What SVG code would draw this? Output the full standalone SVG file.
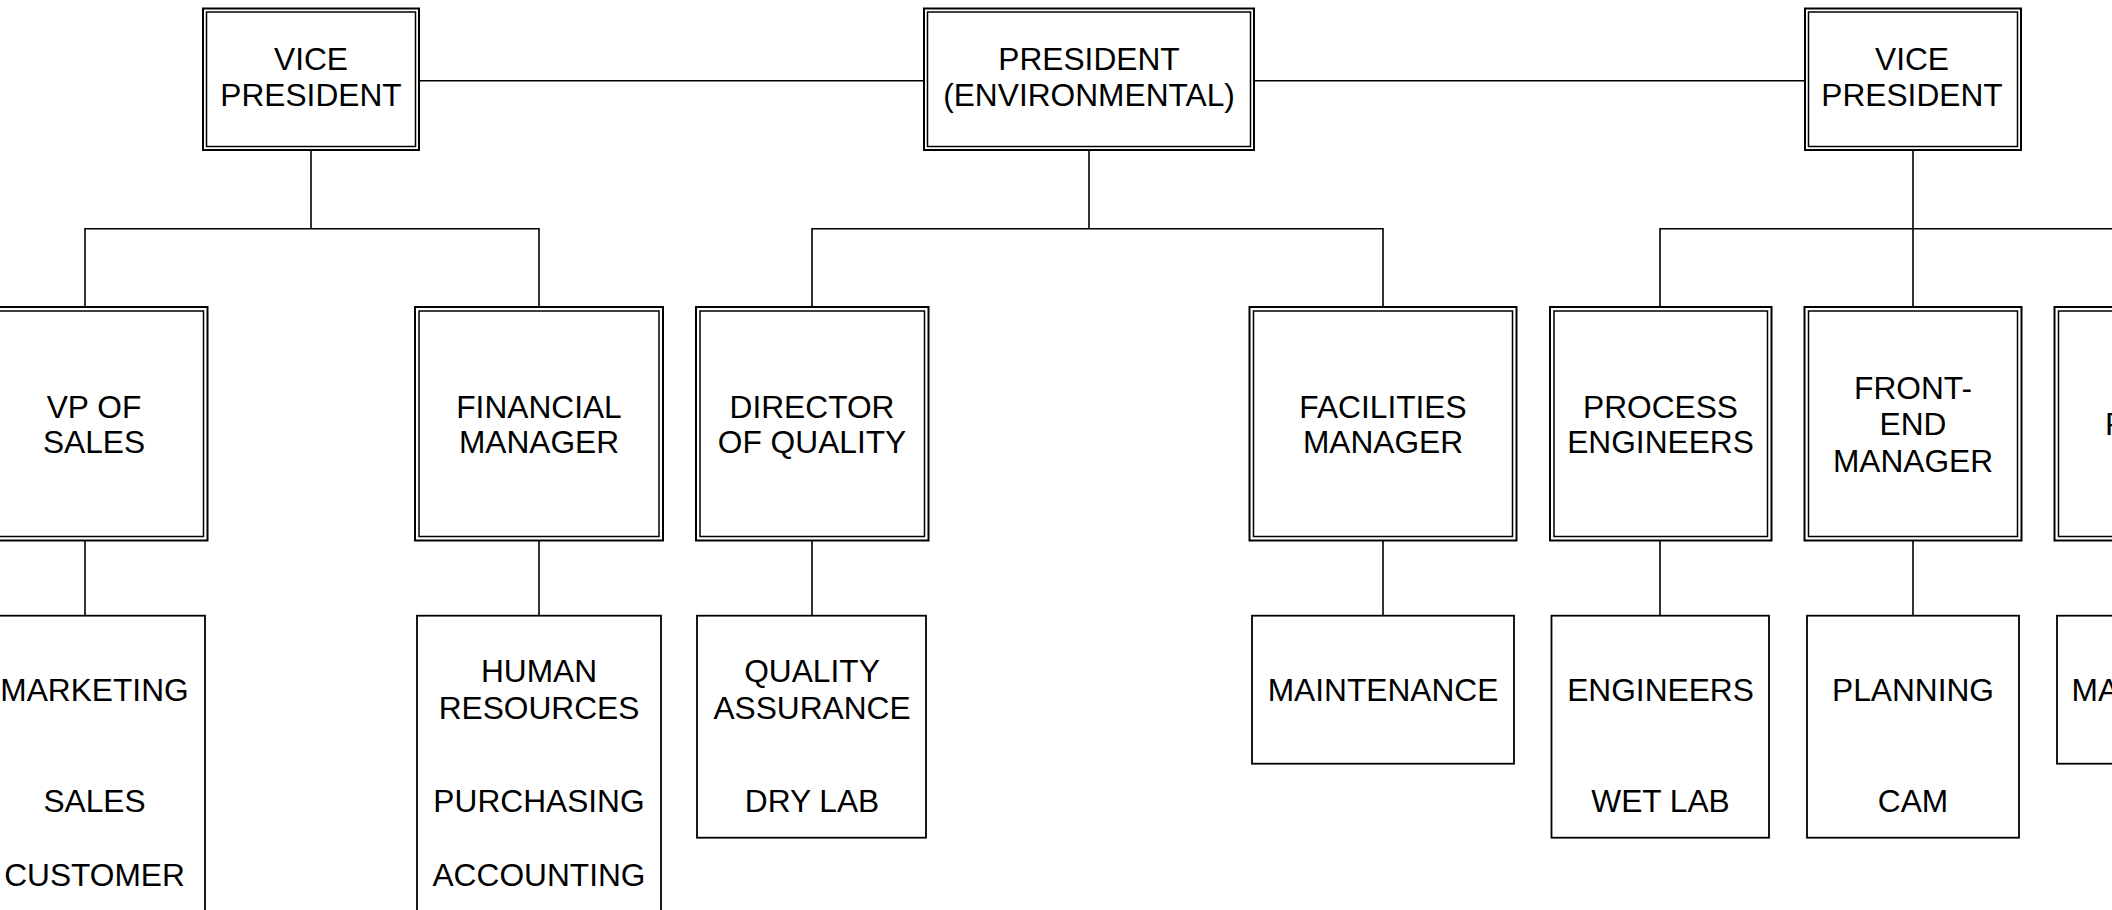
<svg xmlns="http://www.w3.org/2000/svg" width="2112" height="910" viewBox="0 0 2112 910">
<style>
.o{fill:#fff;stroke:#000;stroke-width:2}
.i{fill:none;stroke:#000;stroke-width:1.5}
.s{fill:#fff;stroke:#000;stroke-width:1.8}
.c{fill:none;stroke:#000;stroke-width:1.6}
text{font-family:"Liberation Sans",Arial,sans-serif;font-size:31.7px;fill:#000;text-anchor:middle}
text.l{text-anchor:start}
</style>
<rect width="2112" height="910" fill="#fff"/>
<g id="connectors">
<path class="c" d="M419 80.7H924M1254 80.7H1805"/>
<path class="c" d="M311 150V228.7M85 307V228.7H539V307"/>
<path class="c" d="M1089 150V228.7M812 307V228.7H1383V307"/>
<path class="c" d="M1913 150V307M1660 307V228.7H2120"/>
<path class="c" d="M85 540.5V615.7M539 540.5V615.7M812 540.5V615.7M1383 540.5V615.7M1660 540.5V615.7M1913 540.5V615.7"/>
</g>
<g id="vp-left">
<rect class="o" x="203" y="8.5" width="216" height="141.5"/>
<rect class="i" x="206.5" y="12" width="209" height="134.5"/>
<text x="311" y="70">VICE</text><text x="311" y="106">PRESIDENT</text>
</g>
<g id="president">
<rect class="o" x="924" y="8.5" width="330" height="141.5"/>
<rect class="i" x="927.5" y="12" width="323" height="134.5"/>
<text x="1089" y="70">PRESIDENT</text><text x="1089" y="106">(ENVIRONMENTAL)</text>
</g>
<g id="vp-right">
<rect class="o" x="1805" y="8.5" width="216" height="141.5"/>
<rect class="i" x="1808.5" y="12" width="209" height="134.5"/>
<text x="1912" y="70">VICE</text><text x="1912" y="106">PRESIDENT</text>
</g>
<g id="vp-sales">
<rect class="o" x="-41" y="307" width="248.5" height="233.5"/>
<rect class="i" x="-37" y="311" width="240.5" height="225.5"/>
<text x="94" y="417.7">VP OF</text><text x="94" y="453.3">SALES</text>
</g>
<g id="financial-manager">
<rect class="o" x="415" y="307" width="248" height="233.5"/>
<rect class="i" x="419" y="311" width="240" height="225.5"/>
<text x="539" y="417.7">FINANCIAL</text><text x="539" y="453.3">MANAGER</text>
</g>
<g id="director-quality">
<rect class="o" x="696" y="307" width="232.5" height="233.5"/>
<rect class="i" x="700" y="311" width="224.5" height="225.5"/>
<text x="812" y="417.7">DIRECTOR</text><text x="812" y="453.3">OF QUALITY</text>
</g>
<g id="facilities-manager">
<rect class="o" x="1249.5" y="307" width="267" height="233.5"/>
<rect class="i" x="1253.5" y="311" width="259" height="225.5"/>
<text x="1383" y="417.7">FACILITIES</text><text x="1383" y="453.3">MANAGER</text>
</g>
<g id="process-engineers">
<rect class="o" x="1550" y="307" width="221.5" height="233.5"/>
<rect class="i" x="1554" y="311" width="213.5" height="225.5"/>
<text x="1660.5" y="417.7">PROCESS</text><text x="1660.5" y="453.3">ENGINEERS</text>
</g>
<g id="front-end-manager">
<rect class="o" x="1804.5" y="307" width="217" height="233.5"/>
<rect class="i" x="1808.5" y="311" width="209" height="225.5"/>
<text x="1913" y="398.7">FRONT-</text><text x="1913" y="435.3">END</text><text x="1913" y="471.7">MANAGER</text>
</g>
<g id="partial-manager">
<rect class="o" x="2054.5" y="307" width="240" height="233.5"/>
<rect class="i" x="2058.5" y="311" width="232" height="225.5"/>
<text class="l" x="2105" y="435">P</text>
</g>
<g id="marketing">
<rect class="s" x="-39" y="615.7" width="244" height="340"/>
<text x="94.5" y="701">MARKETING</text><text x="94.5" y="811.7">SALES</text><text x="94.5" y="886">CUSTOMER</text>
</g>
<g id="human-resources">
<rect class="s" x="417" y="615.7" width="244" height="340"/>
<text x="539" y="682">HUMAN</text><text x="539" y="718.7">RESOURCES</text><text x="539" y="811.7">PURCHASING</text><text x="539" y="886">ACCOUNTING</text>
</g>
<g id="quality-assurance">
<rect class="s" x="697" y="615.7" width="229" height="222"/>
<text x="812" y="682">QUALITY</text><text x="812" y="718.7">ASSURANCE</text><text x="812" y="811.7">DRY LAB</text>
</g>
<g id="maintenance">
<rect class="s" x="1252" y="615.7" width="262" height="148"/>
<text x="1383" y="701">MAINTENANCE</text>
</g>
<g id="engineers">
<rect class="s" x="1551.5" y="615.7" width="217.5" height="222"/>
<text x="1660.5" y="701">ENGINEERS</text><text x="1660.5" y="811.7">WET LAB</text>
</g>
<g id="planning">
<rect class="s" x="1807" y="615.7" width="212" height="222"/>
<text x="1913" y="701">PLANNING</text><text x="1913" y="811.7">CAM</text>
</g>
<g id="partial-ma">
<rect class="s" x="2057" y="615.7" width="240" height="148"/>
<text class="l" x="2071.5" y="701">MA</text>
</g>
</svg>
